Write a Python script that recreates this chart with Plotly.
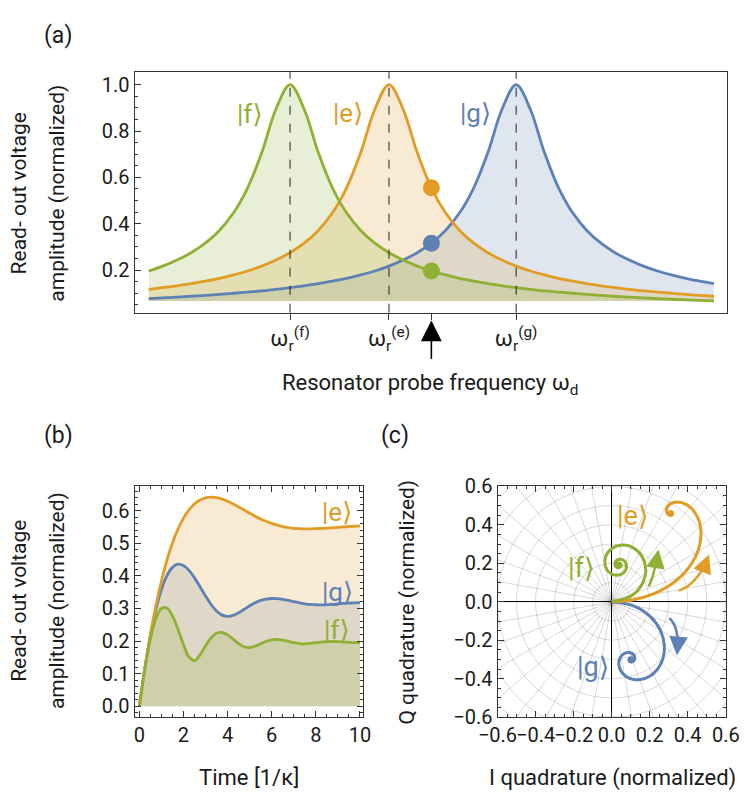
import math
import plotly.graph_objects as go

W, H = 756, 801
BLUE, ORANGE, GREEN = '#5E81B5', '#E19C24', '#8FB032'
FILLS = {BLUE: 'rgba(94,129,181,0.2)', ORANGE: 'rgba(225,156,36,0.2)', GREEN: 'rgba(143,176,50,0.2)'}
FONT = 'Roboto, DejaVu Sans, sans-serif'
TXT = '#1a1a1a'

# ---------------- panel (a): resonator response vs probe frequency ----------------
FREQ = [-8.5, -8, -7.5, -7, -6.5, -6, -5.5, -5, -4.5, -4, -3.5, -3, -2.5, -2, -1.5, -1, -0.5, 0,
        0.5, 1, 1.5, 2, 2.5, 3, 3.5, 4, 4.5, 5, 5.5, 6, 6.5, 7, 7.5, 8, 8.5, 9, 9.5, 10, 10.5, 11, 11.5]
AMP_F = [0.196, 0.217, 0.243, 0.275, 0.316, 0.371, 0.447, 0.555, 0.707, 0.894, 1.000, 0.894, 0.707,
         0.555, 0.447, 0.371, 0.316, 0.275, 0.243, 0.217, 0.196, 0.179, 0.164, 0.152, 0.141, 0.132,
         0.124, 0.117, 0.110, 0.105, 0.100, 0.095, 0.091, 0.087, 0.083, 0.080, 0.077, 0.074, 0.071,
         0.069, 0.067]
AMP_E = [0.117, 0.124, 0.132, 0.141, 0.152, 0.164, 0.179, 0.196, 0.217, 0.243, 0.275, 0.316, 0.371,
         0.447, 0.555, 0.707, 0.894, 1.000, 0.894, 0.707, 0.555, 0.447, 0.371, 0.316, 0.275, 0.243,
         0.217, 0.196, 0.179, 0.164, 0.152, 0.141, 0.132, 0.124, 0.117, 0.110, 0.105, 0.100, 0.095,
         0.091, 0.087]
AMP_G = [0.077, 0.080, 0.083, 0.087, 0.091, 0.095, 0.100, 0.105, 0.110, 0.117, 0.124, 0.132, 0.141,
         0.152, 0.164, 0.179, 0.196, 0.217, 0.243, 0.275, 0.316, 0.371, 0.447, 0.555, 0.707, 0.894,
         1.000, 0.894, 0.707, 0.555, 0.447, 0.371, 0.316, 0.275, 0.243, 0.217, 0.196, 0.179, 0.164,
         0.152, 0.141]
PROBE = 1.5
FREQ_TICK_TEXT = ['ω<sub>r</sub><sup>(f)</sup>', 'ω<sub>r</sub><sup>(e)</sup>', '', 'ω<sub>r</sub><sup>(g)</sup>']

# ---------------- panels (b) and (c): transient response ----------------
T = [0, 0.25, 0.5, 0.75, 1, 1.25, 1.5, 1.75, 2, 2.25, 2.5, 2.75, 3, 3.25, 3.5, 3.75, 4, 4.25, 4.5,
     4.75, 5, 5.25, 5.5, 5.75, 6, 6.25, 6.5, 6.75, 7, 7.25, 7.5, 7.75, 8, 8.25, 8.5, 8.75, 9, 9.25,
     9.5, 9.75, 10]
E_AMP = [0, .1173, .2199, .3086, .3844, .4481, .5010, .5436, .5774, .6027, .6211, .6330, .6397, .6419,
         .6402, .6358, .6290, .6209, .6116, .6022, .5926, .5835, .5750, .5676, .5611, .5558, .5516,
         .5485, .5462, .5450, .5444, .5445, .5449, .5458, .5467, .5479, .5492, .5504, .5514, .5525, .5534]
G_AMP = [0, .1168, .2160, .2967, .3580, .4009, .4262, .4358, .4317, .4168, .3940, .3666, .3382, .3122,
         .2919, .2795, .2754, .2786, .2869, .2975, .3082, .3176, .3246, .3289, .3306, .3301, .3278,
         .3246, .3209, .3173, .3144, .3124, .3114, .3112, .3118, .3128, .3141, .3155, .3165, .3174, .3178]
F_AMP = [0, .1156, .2072, .2692, .3000, .3011, .2773, .2362, .1888, .1509, .1400, .1574, .1856, .2097,
         .2237, .2262, .2189, .2058, .1919, .1824, .1801, .1842, .1917, .1990, .2036, .2047, .2027,
         .1988, .1949, .1923, .1915, .1926, .1947, .1968, .1982, .1986, .1980, .1969, .1958, .1951, .1948]

E_I = [0, .1168, .2164, .2979, .3619, .4093, .4417, .4609, .4691, .4681, .4603, .4472, .4309, .4127,
       .3938, .3753, .3577, .3419, .3279, .3163, .3068, .2994, .2940, .2905, .2884, .2877, .2881,
       .2893, .2909, .2931, .2954, .2977, .2999, .3020, .3039, .3056, .3070, .3081, .3089, .3095, .3099]
E_Q = [0, .0107, .0393, .0804, .1295, .1825, .2364, .2883, .3366, .3797, .4170, .4480, .4728, .4916,
       .5048, .5132, .5174, .5183, .5163, .5124, .5070, .5008, .4942, .4877, .4813, .4755, .4704,
       .4660, .4623, .4595, .4573, .4559, .4550, .4546, .4545, .4548, .4554, .4561, .4568, .4577, .4585]
G_I = [0, .1149, .2022, .2565, .2772, .2692, .2400, .1981, .1520, .1091, .0744, .0509, .0393, .0385,
       .0463, .0598, .0757, .0914, .1048, .1146, .1203, .1219, .1202, .1161, .1107, .1051, .1000,
       .0960, .0934, .0924, .0926, .0938, .0956, .0975, .0994, .1009, .1020, .1027, .1027, .1024, .1018]
G_Q = [0, -.0213, -.0759, -.1491, -.2266, -.2970, -.3522, -.3882, -.4041, -.4023, -.3869, -.3630,
       -.3359, -.3098, -.2882, -.2730, -.2648, -.2632, -.2671, -.2745, -.2838, -.2933, -.3015, -.3077,
       -.3115, -.3129, -.3122, -.3101, -.3070, -.3036, -.3005, -.2980, -.2964, -.2955, -.2955, -.2961,
       -.2971, -.2983, -.2994, -.3004, -.3011]
F_I = [0, .1102, .1712, .1725, .1270, .0608, .0015, -.0319, -.0334, -.0096, .0256, .0575, .0757, .0770,
       .0646, .0458, .0287, .0187, .0178, .0243, .0343, .0435, .0489, .0495, .0461, .0408, .0359,
       .0329, .0325, .0343, .0371, .0398, .0414, .0417, .0407, .0392, .0378, .0369, .0368, .0373, .0380]
F_Q = [0, .0348, .1167, .2067, .2718, .2949, .2773, .2340, .1858, .1506, .1376, .1465, .1694, .1951,
       .2142, .2215, .2170, .2049, .1911, .1808, .1768, .1790, .1854, .1928, .1983, .2006, .1995,
       .1961, .1922, .1892, .1879, .1885, .1902, .1923, .1940, .1947, .1944, .1934, .1923, .1915, .1911]

# rotation-direction arrows in the IQ plane (last point = arrow tip)
ARROW_F_I = [0.195, 0.213, 0.228, 0.240, 0.246]
ARROW_F_Q = [0.080, 0.125, 0.180, 0.235, 0.272]
ARROW_E_I = [0.354, 0.405, 0.455, 0.492, 0.512]
ARROW_E_Q = [0.058, 0.085, 0.135, 0.195, 0.246]
ARROW_G_I = [0.304, 0.330, 0.345, 0.347, 0.343]
ARROW_G_Q = [-0.084, -0.120, -0.175, -0.235, -0.278]

GRID_RADII = [0.1, 0.2, 0.3, 0.4, 0.5, 0.6, 0.7, 0.8]
GRID_ANGLES = list(range(0, 360, 10))

# frame geometry (pixels)
A_BOX = (120, 740, 62, 310)
B_BOX = (120, 359, 489, 727)
C_BOX = (500, 739, 489, 727)
C_RANGE = (-0.6, 0.6)


def px(x):
    return x / W


def py(y):
    return 1 - y / H


fig = go.Figure()

# ---- panel (a) fills then lines ----
BASE = min(AMP_F + AMP_E + AMP_G)
series_a = [(AMP_G, BLUE), (AMP_E, ORANGE), (AMP_F, GREEN)]
for amp, col in series_a:
    fig.add_trace(go.Scatter(x=FREQ, y=[BASE] * len(FREQ), mode='lines', line=dict(width=0),
                             hoverinfo='skip', showlegend=False, xaxis='x', yaxis='y'))
    fig.add_trace(go.Scatter(x=FREQ, y=amp, mode='lines', line=dict(width=0, shape='spline'),
                             fill='tonexty', fillcolor=FILLS[col], hoverinfo='skip',
                             showlegend=False, xaxis='x', yaxis='y'))
for amp, col in series_a:
    fig.add_trace(go.Scatter(x=FREQ, y=amp, mode='lines', line=dict(color=col, width=2.8, shape='spline'),
                             showlegend=False, xaxis='x', yaxis='y'))
ip = FREQ.index(PROBE)
fig.add_trace(go.Scatter(x=[PROBE] * 3, y=[AMP_E[ip], AMP_G[ip], AMP_F[ip]], mode='markers',
                         marker=dict(size=17, color=[ORANGE, BLUE, GREEN]), showlegend=False,
                         xaxis='x', yaxis='y'))

# ---- panel (b) ----
series_b = [(G_AMP, BLUE), (E_AMP, ORANGE), (F_AMP, GREEN)]
for amp, col in series_b:
    fig.add_trace(go.Scatter(x=T, y=amp, mode='lines', line=dict(width=0, shape='spline'),
                             fill='tozeroy', fillcolor=FILLS[col], hoverinfo='skip',
                             showlegend=False, xaxis='x2', yaxis='y2'))
for amp, col in series_b:
    fig.add_trace(go.Scatter(x=T, y=amp, mode='lines', line=dict(color=col, width=2.8, shape='spline'),
                             showlegend=False, xaxis='x2', yaxis='y2'))

# ---- panel (c) ----
for I, Q, col in [(G_I, G_Q, BLUE), (E_I, E_Q, ORANGE), (F_I, F_Q, GREEN)]:
    fig.add_trace(go.Scatter(x=I, y=Q, mode='lines', line=dict(color=col, width=3, shape='spline'),
                             showlegend=False, xaxis='x3', yaxis='y3'))
    fig.add_trace(go.Scatter(x=[I[-1]], y=[Q[-1]], mode='markers', marker=dict(size=7, color=col),
                             showlegend=False, xaxis='x3', yaxis='y3'))

annotations = []
sx = (C_BOX[1] - C_BOX[0]) / (C_RANGE[1] - C_RANGE[0])
sy = (C_BOX[3] - C_BOX[2]) / (C_RANGE[1] - C_RANGE[0])
for AI, AQ, col in [(ARROW_F_I, ARROW_F_Q, GREEN), (ARROW_E_I, ARROW_E_Q, ORANGE), (ARROW_G_I, ARROW_G_Q, BLUE)]:
    fig.add_trace(go.Scatter(x=AI[:-1], y=AQ[:-1], mode='lines', line=dict(color=col, width=2.5, shape='spline'),
                             showlegend=False, xaxis='x3', yaxis='y3'))
    dxp = (AI[-1] - AI[-2]) * sx
    dyp = -(AQ[-1] - AQ[-2]) * sy
    n = math.hypot(dxp, dyp)
    annotations.append(dict(x=AI[-1], y=AQ[-1], xref='x3', yref='y3', ax=-dxp / n * 9, ay=-dyp / n * 9,
                            showarrow=True, arrowhead=2, arrowsize=1.5, arrowwidth=2.5,
                            arrowcolor=col, text='', standoff=0))

# ---- shapes ----
shapes = []
for amp in (AMP_F, AMP_E, AMP_G):
    xc = FREQ[amp.index(max(amp))]
    shapes.append(dict(type='line', xref='x', yref='y domain', x0=xc, x1=xc, y0=0, y1=1,
                       line=dict(color='#222', width=1, dash='dash'), layer='above'))
for r in GRID_RADII:
    shapes.append(dict(type='circle', xref='x3', yref='y3', x0=-r, x1=r, y0=-r, y1=r,
                       line=dict(color='rgba(0,0,0,0.2)', width=0.8), layer='below'))
for a in GRID_ANGLES:
    rad = math.radians(a)
    shapes.append(dict(type='line', xref='x3', yref='y3', x0=0, y0=0, x1=0.9 * math.cos(rad),
                       y1=0.9 * math.sin(rad), line=dict(color='rgba(0,0,0,0.2)', width=0.8), layer='below'))

# ---- text annotations ----
ROT_SHIFT = 18  # compensation for rotated annotation placement


def txt(text, x, y, size=20, color=TXT, angle=0):
    if angle:
        x -= ROT_SHIFT
    annotations.append(dict(text=text, x=px(x), y=py(y), xref='paper', yref='paper', showarrow=False,
                            font=dict(family=FONT, size=size, color=color), textangle=angle,
                            xanchor='center', yanchor='middle'))


txt('(a)', 40, 24, 23)
txt('(b)', 40, 437, 23)
txt('(c)', 393, 437, 23)
for yc in (187, 607):
    txt('Read- out voltage', 17, yc, 21, angle=-90)
    txt('amplitude (normalized)', 57, yc, 21, angle=-90)
txt('Resonator probe frequency ω<sub>d</sub>', 430, 384, 22)
txt('Time [1/κ]', 240, 789, 22)
txt('I quadrature (normalized)', 620, 790, 22)
txt('Q quadrature (normalized)', 423, 608, 21, angle=-90)

txt('|f⟩', 241, 105, 26, GREEN)
txt('|e⟩', 343, 104, 26, ORANGE)
txt('|g⟩', 477, 104, 26, BLUE)
txt('|e⟩', 332, 515, 26, ORANGE)
txt('|g⟩', 332, 598, 26, BLUE)
txt('|f⟩', 332, 637, 26, GREEN)
txt('|e⟩', 641, 520, 27, ORANGE)
txt('|f⟩', 588, 573, 27, GREEN)
txt('|g⟩', 600, 675, 27, BLUE)

# probe arrow below panel (a)
annotations.append(dict(x=PROBE, y=py(318), xref='x', yref='paper', ax=0, ay=40, showarrow=True,
                        arrowhead=2, arrowsize=2.6, arrowwidth=1.6, arrowcolor='black', text='',
                        standoff=0))

tickfont = dict(family=FONT, size=20, color=TXT)
LINE = '#333'


def frame(**kw):
    d = dict(showline=True, linecolor=LINE, linewidth=1, showgrid=False, zeroline=False,
             tickfont=tickfont, tickcolor=LINE, tickangle=0)
    d.update(kw)
    return d


fig.update_layout(
    width=W, height=H, margin=dict(l=0, r=0, t=0, b=0),
    paper_bgcolor='white', plot_bgcolor='rgba(0,0,0,0)', showlegend=False,
    font=dict(family=FONT, color=TXT),
    xaxis=frame(domain=[px(A_BOX[0]), px(A_BOX[1])], range=[-9.0, 11.95], anchor='y', mirror=True,
                tickmode='array', tickvals=[FREQ[AMP_F.index(max(AMP_F))], FREQ[AMP_E.index(max(AMP_E))],
                                            PROBE, FREQ[AMP_G.index(max(AMP_G))]],
                ticktext=FREQ_TICK_TEXT, ticks='outside', ticklen=6,
                tickfont=dict(family=FONT, size=22, color=TXT)),
    yaxis=frame(domain=[py(A_BOX[3]), py(A_BOX[2])], range=[0.016, 1.054], anchor='x', mirror=True,
                tickmode='array', tickvals=[0.2, 0.4, 0.6, 0.8, 1.0], tickformat='.1f',
                ticks='inside', ticklen=6,
                minor=dict(ticks='inside', ticklen=3, tick0=0, dtick=0.05, tickcolor=LINE)),
    xaxis2=frame(domain=[px(B_BOX[0]), px(B_BOX[1])], range=[-0.216, 10.13], anchor='y2', mirror='allticks',
                 tick0=0, dtick=2, ticks='inside', ticklen=6,
                 minor=dict(ticks='inside', ticklen=3, tick0=0, dtick=0.5, tickcolor=LINE)),
    yaxis2=frame(domain=[py(B_BOX[3]), py(B_BOX[2])], range=[-0.034, 0.675], anchor='x2', mirror='allticks',
                 tick0=0, dtick=0.1, tickformat='.1f', ticks='inside', ticklen=6,
                 minor=dict(ticks='inside', ticklen=3, tick0=0, dtick=0.02, tickcolor=LINE)),
    xaxis3=frame(domain=[px(C_BOX[0]), px(C_BOX[1])], range=list(C_RANGE), anchor='y3', mirror='allticks',
                 tick0=0, dtick=0.2, tickformat='.1f', ticks='inside', ticklen=6,
                 zeroline=True, zerolinecolor='black', zerolinewidth=1,
                 minor=dict(ticks='inside', ticklen=3, tick0=0, dtick=0.05, tickcolor=LINE)),
    yaxis3=frame(domain=[py(C_BOX[3]), py(C_BOX[2])], range=list(C_RANGE), anchor='x3', mirror='allticks',
                 tick0=0, dtick=0.2, tickformat='.1f', ticks='inside', ticklen=6,
                 zeroline=True, zerolinecolor='black', zerolinewidth=1,
                 minor=dict(ticks='inside', ticklen=3, tick0=0, dtick=0.05, tickcolor=LINE)),
    shapes=shapes, annotations=annotations,
)

fig.write_html('out.html')
